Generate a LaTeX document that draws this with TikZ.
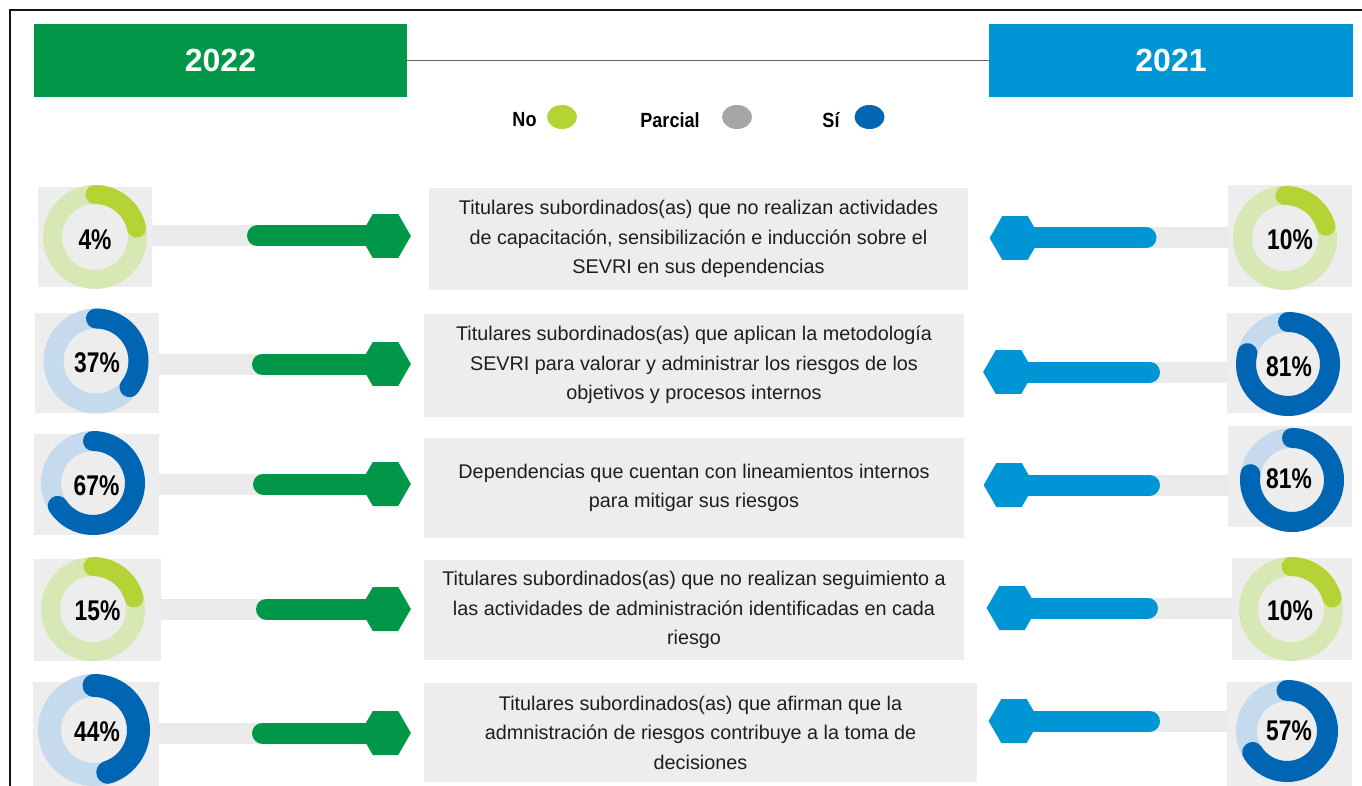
\documentclass[tikz,border=0pt]{standalone}
\usepackage{fontspec}
\setmainfont{Liberation Sans}
\newfontfamily\pctfont[FakeStretch=0.8]{Liberation Sans Bold}
\newfontfamily\legfont[FakeStretch=0.88]{Liberation Sans Bold}
\newfontfamily\headfont{Liberation Sans Bold}
\usetikzlibrary{calc,shapes.geometric}
\definecolor{cgreen}{RGB}{0,152,72}
\definecolor{cblue}{RGB}{0,150,214}
\definecolor{clime}{RGB}{181,211,52}
\definecolor{climel}{RGB}{215,232,181}
\definecolor{cdblue}{RGB}{0,102,179}
\definecolor{cdbluel}{RGB}{197,218,237}
\definecolor{cgray}{RGB}{166,166,168}
\definecolor{cbox}{RGB}{237,237,237}
\definecolor{ctrack}{RGB}{234,234,234}
\definecolor{ctext}{RGB}{30,30,30}
\definecolor{cframe}{RGB}{20,20,20}
\newcommand\ringdraw[6]{%
  \draw[line width=#3, #4] (#1) circle[radius=#2];
  \draw[line width=#3, #5, line cap=round] (#1) ++(-90:#2) arc[start angle=-90, end angle=#6, radius=#2];
}
\begin{document}
\begin{tikzpicture}[x=1pt,y=-1pt,
  sqbox/.style={fill=cbox, inner sep=0, outer sep=0},
  txtbox/.style={fill=cbox, inner sep=0, outer sep=0, align=center, text=ctext, font=\fontsize{19.8}{29.5}\selectfont},
  hexg/.style={regular polygon, regular polygon sides=6, minimum size=50.8, inner sep=0, outer sep=0},
  track/.style={ctrack, line width=21},
  gbar/.style={cgreen, line width=21, line cap=round},
  bbar/.style={cblue, line width=21, line cap=round},
  pct/.style={font=\pctfont\fontsize{28.5}{28.5}\selectfont, text=black, inner sep=0},
  leg/.style={font=\legfont\fontsize{20.5}{20.5}\selectfont, text=black, inner sep=0},
  legdot/.style={ellipse, minimum width=30, minimum height=24, inner sep=0},
  head/.style={minimum height=73, inner sep=0, outer sep=0, text=white, font=\headfont\fontsize{32}{32}\selectfont}
]
\useasboundingbox (0,0) rectangle (1362,786);
\fill[white] (0,0) rectangle (1362,786);
% frame
\draw[cframe, line width=2.4] (9.8,800) -- (9.8,9.8) -- (1380,9.8);
% headers
\node[head, fill=cgreen, minimum width=373] (H22) at (220.5,60.5) {2022};
\node[head, fill=cblue, minimum width=364] (H21) at (1171,60.5) {2021};
\draw[black!60, line width=1.4] (H22.east) -- (H21.west);
% legend
\node[leg] (lNo) at (524.5,120) {No};
\node[legdot, fill=clime] (dNo) at (562,117) {};
\node[leg] (lPa) at (670,120) {Parcial};
\node[legdot, fill=cgray] (dPa) at (737,117) {};
\node[leg] (lSi) at (831,120) {Sí};
\node[legdot, fill=cdblue] (dSi) at (869.5,117) {};

% squares behind donuts
\node[sqbox, minimum width=114, minimum height=100] (L1) at (95,237) {};
\node[sqbox, minimum width=124, minimum height=100] (L2) at (97,363) {};
\node[sqbox, minimum width=125, minimum height=101] (L3) at (96.5,484.5) {};
\node[sqbox, minimum width=127, minimum height=102] (L4) at (97.5,610) {};
\node[sqbox, minimum width=126, minimum height=108] (L5) at (96,736) {};
\node[sqbox, minimum width=124, minimum height=102] (R1) at (1290,236) {};
\node[sqbox, minimum width=125, minimum height=100] (R2) at (1289.5,363) {};
\node[sqbox, minimum width=124, minimum height=101] (R3) at (1290,476.5) {};
\node[sqbox, minimum width=120, minimum height=102] (R4) at (1292,609) {};
\node[sqbox, minimum width=125, minimum height=108] (R5) at (1289.5,736) {};

% text boxes
\node[txtbox, minimum width=539, minimum height=102] (T1) at (698.5,239) {Titulares subordinados(as) que no realizan actividades\\de capacitación, sensibilización e inducción sobre el\\SEVRI en sus dependencias};
\node[txtbox, minimum width=540, minimum height=103] (T2) at (694,365) {Titulares subordinados(as) que aplican la metodología\\SEVRI para valorar y administrar los riesgos de los\\objetivos y procesos internos};
\node[txtbox, minimum width=540, minimum height=100] (T3) at (694,488) {Dependencias que cuentan con lineamientos internos\\para mitigar sus riesgos};
\node[txtbox, minimum width=540, minimum height=100] (T4) at (694,610) {Titulares subordinados(as) que no realizan seguimiento a\\las actividades de administración identificadas en cada\\riesgo};
\node[txtbox, minimum width=553, minimum height=99] (T5) at (700.5,732.5) {Titulares subordinados(as) que afirman que la\\admnistración de riesgos contribuye a la toma de\\decisiones};

% hexagon coordinates (centres)
\coordinate (cHL1) at (385.5,236);
\coordinate (cHL2) at (385.5,364);
\coordinate (cHL3) at (385.5,484);
\coordinate (cHL4) at (385.5,609);
\coordinate (cHL5) at (385.5,733);
\coordinate (cHR1) at (1015,238);
\coordinate (cHR2) at (1008.5,372);
\coordinate (cHR3) at (1009,485);
\coordinate (cHR4) at (1012,608);
\coordinate (cHR5) at (1014,721);
% bar free ends
\coordinate (gs1) at (257.5,236);
\coordinate (gs2) at (262.5,364);
\coordinate (gs3) at (263.5,484);
\coordinate (gs4) at (266.5,609);
\coordinate (gs5) at (262.5,733);
\coordinate (be1) at (1146,238);
\coordinate (be2) at (1149.5,372);
\coordinate (be3) at (1149.5,485);
\coordinate (be4) at (1147.5,608);
\coordinate (be5) at (1149.5,721);

% tracks
\foreach \i in {1,...,5}{
  \draw[track] (L\i.east |- cHL\i) -- (cHL\i);
  \draw[track] (cHR\i) -- (R\i.west |- cHR\i);
}

% donut centres
\coordinate (cL1) at (95,237);
\coordinate (cL2) at (96,361);
\coordinate (cL3) at (93,483);
\coordinate (cL4) at (93,609);
\coordinate (cL5) at (94,730);
\coordinate (cR1) at (1285,238);
\coordinate (cR2) at (1288,364);
\coordinate (cR3) at (1292,480);
\coordinate (cR4) at (1291,609);
\coordinate (cR5) at (1287,731);

\ringdraw{cL1}{42.5}{19}{climel}{clime}{-12}
\ringdraw{cL2}{42.5}{20}{cdbluel}{cdblue}{38}
\ringdraw{cL3}{42}{20}{cdbluel}{cdblue}{147}
\ringdraw{cL4}{42.5}{19}{climel}{clime}{-15}
\ringdraw{cL5}{44.5}{23}{cdbluel}{cdblue}{72}
\ringdraw{cR1}{42.5}{19}{climel}{clime}{-16}
\ringdraw{cR2}{42}{20}{cdbluel}{cdblue}{195}
\ringdraw{cR3}{42}{20}{cdbluel}{cdblue}{188}
\ringdraw{cR4}{42.5}{19}{climel}{clime}{-15}
\ringdraw{cR5}{40.5}{21}{cdbluel}{cdblue}{148}

% percentages
\node[pct] (pL1) at (95,240) {4\%};
\node[pct] (pL2) at (97,363) {37\%};
\node[pct] (pL3) at (96.5,486) {67\%};
\node[pct] (pL4) at (97.5,611) {15\%};
\node[pct] (pL5) at (97,732) {44\%};
\node[pct] (pR1) at (1290,240) {10\%};
\node[pct] (pR2) at (1289,367) {81\%};
\node[pct] (pR3) at (1289,479) {81\%};
\node[pct] (pR4) at (1290,611) {10\%};
\node[pct] (pR5) at (1289,731) {57\%};

% bars and hexagons
\foreach \i in {1,...,5}{
  \draw[gbar] (gs\i) -- (cHL\i);
  \node[hexg, fill=cgreen] (HL\i) at (cHL\i) {};
  \draw[bbar] (cHR\i) -- (be\i);
  \node[hexg, fill=cblue] (HR\i) at (cHR\i) {};
}
\end{tikzpicture}
\end{document}
